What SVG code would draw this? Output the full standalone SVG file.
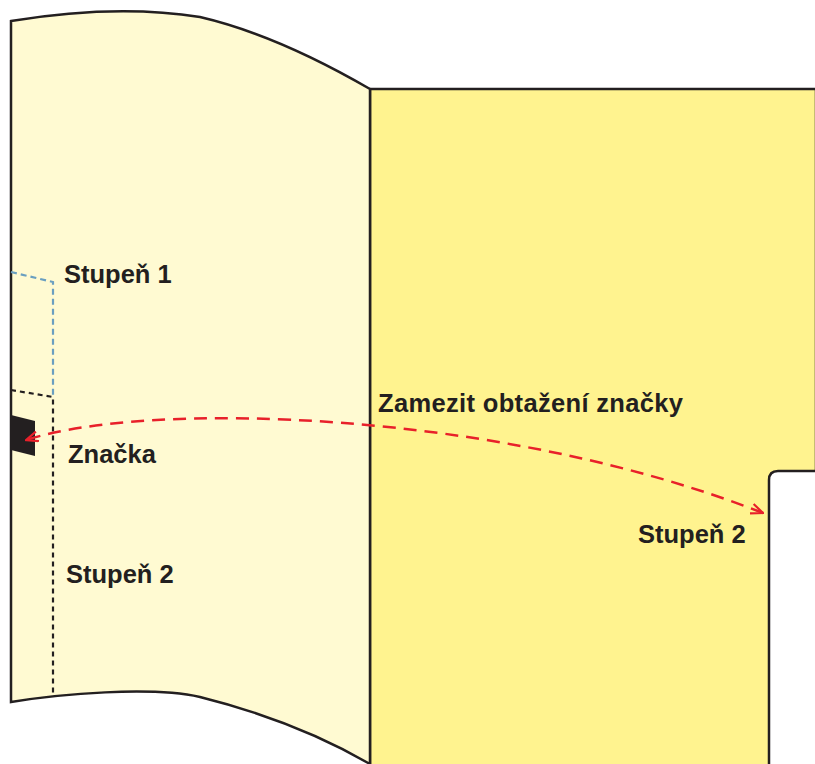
<svg xmlns="http://www.w3.org/2000/svg" width="815" height="764" viewBox="0 0 815 764">
<defs>
<style>
.page{stroke:#231F20;stroke-width:2.5;stroke-linejoin:miter}
.lbl{font-family:"Liberation Sans",Arial,sans-serif;font-weight:bold;font-size:25.5px;fill:#231F20}
.red{fill:none;stroke:#E8202A;stroke-width:2.5;stroke-dasharray:13 8}
.blk{fill:none;stroke:#231F20;stroke-width:2.2;stroke-dasharray:5 4}
.blu{fill:none;stroke:#6A9FC0;stroke-width:2.2;stroke-dasharray:6 4}
</style>
<marker id="ah" viewBox="0 0 14 12" refX="13" refY="6" markerWidth="14" markerHeight="12" markerUnits="userSpaceOnUse" orient="auto-start-reverse">
<path d="M1,1 L13,6 L1,11" fill="none" stroke="#E8202A" stroke-width="2.2"/>
</marker>
</defs>
<rect width="815" height="764" fill="#fff"/>
<g id="right-page">
<path class="page" fill="#FFF38F" d="M370,89 H816 V471 H778 Q769,471 769,480 V766 H370 Z"/>
</g>
<g id="left-page">
<path class="page" fill="#FFFAD2" d="M11,21 C60,13 130,6 200,17 C260,31 320,60 370,89 V764 C320,735 260,712 200,697 C150,686 60,694 11,702 Z"/>
</g>
<g id="stupen1-line">
<path class="blu" d="M11,272 L53,282 L53,397"/>
</g>
<g id="stupen2-line">
<path class="blk" d="M11,390 L53,397 L53,694"/>
</g>
<g id="znacka-mark">
<polygon points="11,415 35,421 35,456 11,450" fill="#231F20"/>
</g>
<g id="connectors">
<path class="red" d="M763,513 C500,410 150,400 26,440" marker-start="url(#ah)" marker-end="url(#ah)"/>
</g>
<g id="labels">
<text class="lbl" x="64" y="283">Stupeň 1</text>
<text class="lbl" x="68" y="463">Značka</text>
<text class="lbl" x="66" y="583">Stupeň 2</text>
<text class="lbl" x="378" y="412" textLength="305" lengthAdjust="spacing">Zamezit obtažení značky</text>
<text class="lbl" x="638" y="543">Stupeň 2</text>
</g>
</svg>
